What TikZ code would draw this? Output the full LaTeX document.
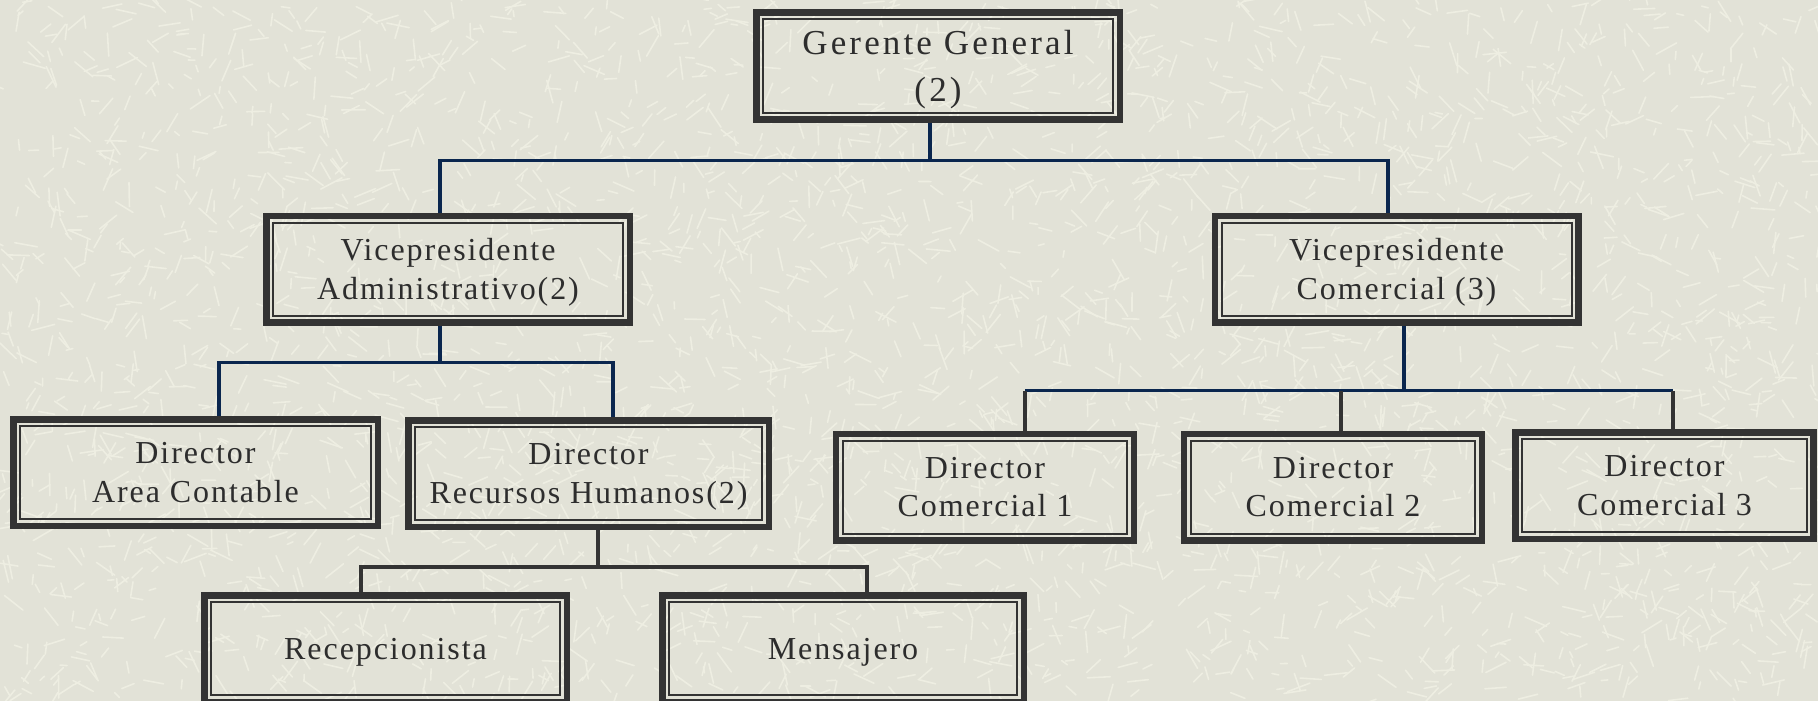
\documentclass[tikz,border=0pt]{standalone}
\usepackage{fontspec}
\setmainfont{Liberation Serif}
\newfontfamily\boxfont{Liberation Serif}[LetterSpace=6]
\newfontfamily\bigboxfont{Liberation Serif}[LetterSpace=9]
\definecolor{bgbeige}{RGB}{226,226,215}
\definecolor{texlight}{RGB}{238,238,226}
\definecolor{boxgray}{RGB}{51,51,51}
\definecolor{navyline}{RGB}{10,38,78}
\definecolor{txtgray}{RGB}{45,45,45}
\tikzset{
  orgbox/.style={draw=boxgray, line width=6.5pt, inner sep=0pt,
    minimum height=106.5pt, align=center, text=txtgray, text depth=0pt,
    font=\boxfont\fontsize{32}{38.5}\selectfont},
  wideboxx/.style={orgbox, minimum width=363.5pt},
  comboxx/.style={orgbox, minimum width=298pt},
  innerframe/.style={draw=boxgray, line width=2pt},
  navyl/.style={draw=navyline, line width=3.6pt},
  grayl/.style={draw=boxgray, line width=3.6pt},
  texl/.style={draw=texlight, line width=1.6pt, line cap=round},
}
\begin{document}
\begin{tikzpicture}[x=1pt,y=-1pt]
\fill[bgbeige] (0,0) rectangle (1818,701);
\useasboundingbox (0,0) rectangle (1818,701);
% background texture
\begin{scope}
\clip (0,0) rectangle (1818,701);
\pgfmathsetseed{12}
\foreach \i in {1,...,3500}{
  \pgfmathsetmacro\xx{rnd*1818}
  \pgfmathsetmacro\yy{rnd*701}
  \pgfmathsetmacro\aa{rnd*360}
  \pgfmathsetmacro\ll{6+rnd*18}
  \draw[texl] (\xx,\yy) -- ++(\aa:\ll);
}
\end{scope}

% nodes
\node[wideboxx, font=\bigboxfont\fontsize{35}{47}\selectfont] (G) at (938,66) {Gerente General\\(2)};
\node[wideboxx] (VA) at (448,269) {Vicepresidente\\Administrativo(2)};
\node[wideboxx] (VC) at (1396.5,269) {Vicepresidente\\Comercial (3)};
\node[wideboxx, minimum width=364.5pt] (DA) at (195.5,472.5) {Director\\Area Contable};
\node[wideboxx, minimum width=360.5pt] (DR) at (588.5,473.5) {Director\\Recursos Humanos(2)};
\node[comboxx] (C1) at (985,487) {Director\\Comercial 1};
\node[comboxx] (C2) at (1333,487) {Director\\Comercial 2};
\node[comboxx] (C3) at (1664.5,485.5) {Director\\Comercial 3};
\node[wideboxx, minimum width=362.5pt] (R) at (385.5,648.5) {Recepcionista};
\node[wideboxx, minimum width=361.5pt] (M) at (843,648.5) {Mensajero};

% inner frames
\foreach \n in {G,VA,VC,DA,DR,C1,C2,C3,R,M}{
  \draw[innerframe] ([shift={(10pt,10pt)}]\n.south west) rectangle ([shift={(-10pt,-10pt)}]\n.north east);
}

% connectors
\coordinate (gbus) at ([xshift=-8pt,yshift=-38pt]G.south);
\draw[navyl] ([xshift=-8pt]G.south) -- (gbus);
\draw[navyl] ([xshift=-8pt]VA.north) |- (gbus) -| ([xshift=-8.5pt]VC.north);

\coordinate (vabus) at ([xshift=-8pt,yshift=-37pt]VA.south);
\draw[navyl] ([xshift=-8pt]VA.south) -- (vabus);
\draw[navyl] ([xshift=23.5pt]DA.north) |- (vabus) -| ([xshift=24.5pt]DR.north);

\coordinate (vcbus) at ([xshift=7.5pt,yshift=-66pt]VC.south);
\coordinate (c1top) at ([xshift=40pt,yshift=40pt]C1.north);
\coordinate (c2top) at ([xshift=8pt]C2.north |- c1top);
\coordinate (c3top) at ([xshift=8.5pt]C3.north |- c1top);
\draw[navyl] ([xshift=7.5pt]VC.south) -- (vcbus);
\draw[navyl] (c1top) -- (c3top);
\draw[grayl] ([xshift=40pt]C1.north) -- (c1top);
\draw[grayl] ([xshift=8pt]C2.north) -- (c2top);
\draw[grayl] ([xshift=8.5pt]C3.north) -- (c3top);

\coordinate (drbus) at ([xshift=9.5pt,yshift=-37pt]DR.south);
\draw[grayl] ([xshift=9.5pt]DR.south) -- (drbus);
\draw[grayl] ([xshift=-24.5pt]R.north) |- (drbus) -| ([xshift=24pt]M.north);
\end{tikzpicture}
\end{document}
